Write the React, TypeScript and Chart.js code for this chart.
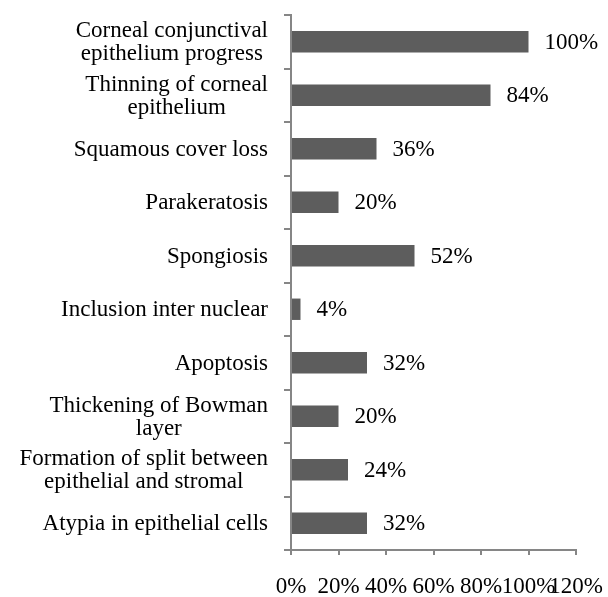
import React, { useEffect, useRef } from "react";
import { Chart, registerables } from "chart.js";

Chart.register(...registerables);

const categories: string[][] = [
  ["Corneal conjunctival", "epithelium progress"],
  ["Thinning of corneal", "epithelium"],
  ["Squamous cover loss"],
  ["Parakeratosis"],
  ["Spongiosis"],
  ["Inclusion inter nuclear"],
  ["Apoptosis"],
  ["Thickening of Bowman", "layer"],
  ["Formation of split between", "epithelial and stromal"],
  ["Atypia in epithelial cells"],
];
const values: number[] = [100, 84, 36, 20, 52, 4, 32, 20, 24, 32];
const xMax = 120;
const xStep = 20;

const FONT_FAMILY = '"Liberation Serif", "Times New Roman", serif';
const FONT_SIZE = 23;
const AXIS_COLOR = "#868686";
const BAR_COLOR = "#5d5d5d";

const labelPlugin = {
  id: "customLabels",
  afterDatasetsDraw(chart: any) {
    const ctx = chart.ctx;
    ctx.save();
    ctx.font = `${FONT_SIZE}px ${FONT_FAMILY}`;
    ctx.fillStyle = "#000";
    // data labels
    const meta = chart.getDatasetMeta(0);
    meta.data.forEach((bar: any, i: number) => {
      ctx.textAlign = "left";
      ctx.textBaseline = "middle";
      ctx.fillText(values[i] + "%", bar.x + 16, bar.y + 1);
    });
    // category labels: block right-aligned, lines centred inside block
    const yScale = chart.scales.y;
    const rightEdge = yScale.right - 23;
    const lineHeight = 23;
    categories.forEach((lines, i) => {
      const cy = yScale.getPixelForValue(i);
      const blockW = Math.max(...lines.map((l) => ctx.measureText(l).width));
      const cx = rightEdge - blockW / 2;
      ctx.textAlign = "center";
      ctx.textBaseline = "middle";
      lines.forEach((line, j) => {
        const ly = cy + (j - (lines.length - 1) / 2) * lineHeight;
        ctx.fillText(line, cx, ly + 1);
      });
    });
    ctx.restore();
  },
};

export default function App() {
  const canvasRef = useRef<HTMLCanvasElement | null>(null);

  useEffect(() => {
    const canvas = canvasRef.current;
    if (!canvas) return;
    const chart = new Chart(canvas, {
      type: "bar",
      data: {
        labels: categories.map((c) => c.join(" ")),
        datasets: [
          {
            data: values,
            backgroundColor: BAR_COLOR,
            borderWidth: 0,
            barPercentage: 0.4,
            categoryPercentage: 1,
          },
        ],
      },
      options: {
        indexAxis: "y",
        animation: false,
        responsive: false,
        maintainAspectRatio: false,
        layout: { padding: { top: 15, right: 32, left: 0, bottom: 0 } },
        plugins: {
          legend: { display: false },
          tooltip: { enabled: false },
        },
        scales: {
          x: {
            min: 0,
            max: xMax,
            ticks: {
              stepSize: xStep,
              autoSkip: false,
              maxRotation: 0,
              minRotation: 0,
              padding: 18,
              color: "#000",
              font: { family: FONT_FAMILY, size: FONT_SIZE },
              callback: (v: any) => v + "%",
            },
            grid: {
              drawOnChartArea: false,
              drawTicks: true,
              tickLength: 5,
              color: AXIS_COLOR,
              lineWidth: 2,
            },
            border: { color: AXIS_COLOR, width: 2 },
            afterFit: (scale: any) => {
              scale.height = 47;
              scale.paddingLeft = 0;
              scale.paddingRight = 0;
            },
          },
          y: {
            ticks: { display: false },
            grid: {
              offset: true,
              drawOnChartArea: false,
              drawTicks: true,
              tickLength: 7,
              color: AXIS_COLOR,
              lineWidth: 2,
            },
            border: { color: AXIS_COLOR, width: 2 },
            afterFit: (scale: any) => {
              scale.width = 291;
              scale.paddingTop = 0;
              scale.paddingBottom = 0;
            },
          },
        },
      },
      plugins: [labelPlugin],
    });
    return () => chart.destroy();
  }, []);

  return (
    <div style={{ position: "fixed", left: 0, top: 0, width: 608, height: 597, background: "#fff" }}>
      <canvas ref={canvasRef} width={608} height={597} style={{ width: 608, height: 597, display: "block" }} />
    </div>
  );
}
